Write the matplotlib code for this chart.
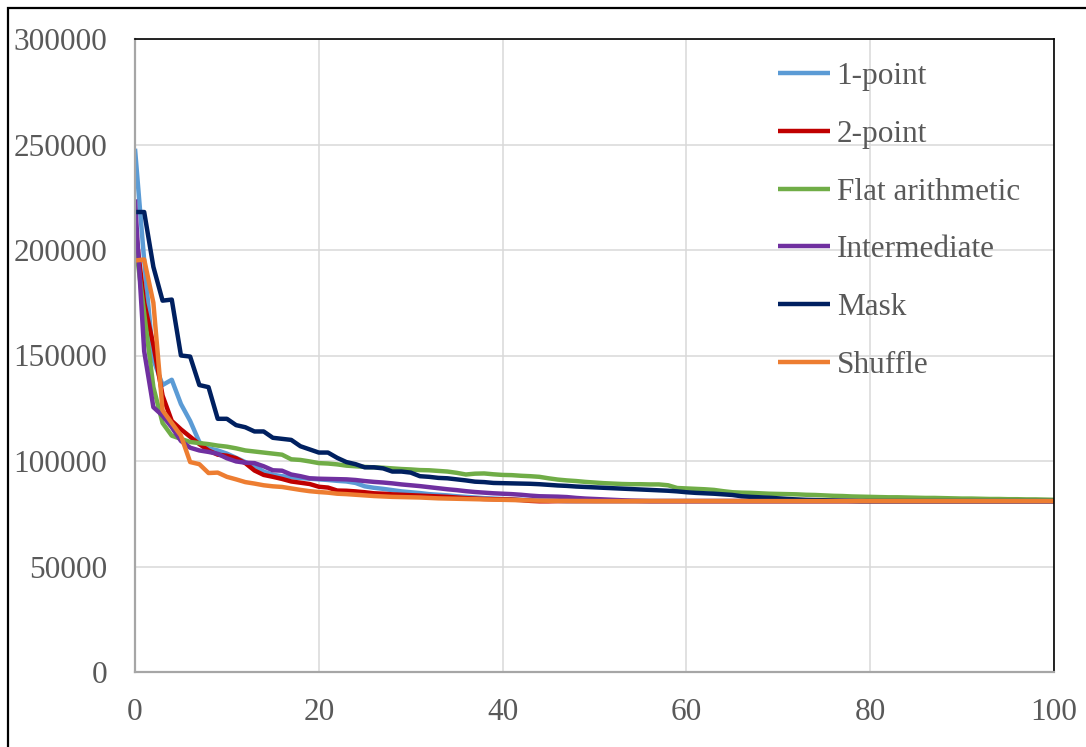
import matplotlib
matplotlib.use("Agg")
import matplotlib.pyplot as plt
from matplotlib.patches import Rectangle

generations = list(range(101))

one_point = [
    248000, 195000, 148000, 136000, 138500, 127000, 119000, 109000, 106000, 105000,
    103500, 101500, 99500, 97500, 95000, 93500, 92800, 92300, 91900, 91600,
    91300, 91000, 90600, 90300, 89600, 88000, 87300, 86800, 86200, 85600,
    85200, 84800, 84300, 84000, 83700, 83300, 83000, 82700, 82400, 82200,
    82000, 81800, 81600, 81400, 81300, 81200, 81100, 81000, 81000, 81000,
    81000, 81000, 81000, 81000, 81000, 81000, 81000, 81000, 81000, 81000,
    81000, 81000, 81000, 81000, 81000, 81000, 81000, 81000, 81000, 81000,
    81000, 81000, 81000, 81000, 81000, 81000, 81000, 81000, 81000, 81000,
    81000, 81000, 81000, 81000, 81000, 81000, 81000, 81000, 81000, 81000,
    81000, 81000, 81000, 81000, 81000, 81000, 81000, 81000, 81000, 81000,
    81000,
]

two_point = [
    212000, 175000, 155000, 131000, 119000, 115000, 111500, 108000, 105000, 103000,
    102500, 101300, 99000, 95500, 93400, 92500, 91500, 90300, 89700, 89100,
    87800, 87400, 86000, 85900, 85600, 85200, 84700, 84500, 84200, 84000,
    83800, 83600, 83400, 83200, 83000, 82700, 82400, 82200, 82000, 81900,
    81800, 81700, 81500, 81100, 80900, 80900, 81000, 81000, 81000, 81000,
    81000, 81000, 81000, 81000, 81000, 81000, 81000, 81000, 81000, 81000,
    81000, 81000, 81000, 81000, 81000, 81000, 81000, 81000, 81000, 81000,
    81000, 81000, 81000, 81000, 81000, 81000, 81000, 81000, 81000, 81000,
    81000, 81000, 81000, 81000, 81000, 81000, 81000, 81000, 81000, 81000,
    81000, 81000, 81000, 81000, 81000, 81000, 81000, 81000, 81000, 81000,
    81000,
]

flat_arithmetic = [
    205000, 170000, 135000, 118000, 112000, 110500, 109000, 108500, 108000, 107300,
    106800, 106000, 105000, 104500, 104000, 103500, 103000, 100800, 100500, 99800,
    99000, 98800, 98400, 97800, 97500, 97200, 97000, 96800, 96500, 96200,
    96000, 95700, 95600, 95300, 95000, 94400, 93600, 94000, 94100, 93700,
    93400, 93300, 93000, 92800, 92500, 91800, 91200, 90800, 90500, 90100,
    89800, 89500, 89300, 89100, 89000, 89000, 88900, 88900, 88500, 87200,
    87000, 86800, 86600, 86300, 85700, 85200, 85000, 84900, 84700, 84500,
    84400, 84300, 84200, 84000, 83900, 83700, 83500, 83400, 83200, 83100,
    83000, 82900, 82800, 82800, 82700, 82600, 82500, 82500, 82400, 82300,
    82200, 82200, 82100, 82000, 82000, 81900, 81900, 81800, 81800, 81700,
    81600,
]

intermediate = [
    224000, 152000, 125500, 121500, 116000, 109500, 106300, 105000, 104300, 103400,
    101300, 99800, 99200, 99000, 97500, 95600, 95400, 93600, 92800, 91800,
    91600, 91500, 91400, 91300, 91000, 90500, 90100, 89800, 89400, 88900,
    88500, 88100, 87600, 87100, 86600, 86200, 85700, 85300, 85000, 84700,
    84500, 84300, 84000, 83600, 83300, 83200, 83100, 82900, 82500, 82200,
    82000, 81800, 81600, 81400, 81200, 81100, 81000, 81000, 81000, 81000,
    81000, 81000, 81000, 81000, 81000, 81000, 81000, 81000, 81000, 81000,
    81000, 81000, 81000, 81000, 81000, 81000, 81000, 81000, 81000, 81000,
    81000, 81000, 81000, 81000, 81000, 81000, 81000, 81000, 81000, 81000,
    81000, 81000, 81000, 81000, 81000, 81000, 81000, 81000, 81000, 81000,
    81000,
]

mask = [
    218000, 218000, 192000, 176000, 176500, 150000, 149500, 136000, 135000, 120000,
    120000, 117000, 116000, 114000, 114000, 111000, 110500, 110000, 107000, 105500,
    104000, 104000, 101500, 99500, 98500, 97000, 97000, 96500, 95000, 95000,
    94500, 92800, 92500, 92000, 91800, 91300, 90800, 90200, 90000, 89600,
    89500, 89400, 89300, 89200, 89000, 88700, 88400, 88200, 87900, 87700,
    87500, 87300, 87100, 86900, 86700, 86500, 86300, 86100, 85900, 85600,
    85200, 84900, 84700, 84500, 84200, 83900, 83300, 83000, 82800, 82600,
    82300, 82000, 81800, 81600, 81500, 81400, 81300, 81200, 81100, 81000,
    81000, 81000, 81000, 81000, 81000, 81000, 81000, 81000, 81000, 81000,
    81000, 81000, 81000, 81000, 81000, 81000, 81000, 81000, 81000, 81000,
    81000,
]

shuffle = [
    195000, 195500, 175000, 124000, 118000, 112000, 99500, 98500, 94300, 94500,
    92500, 91300, 90000, 89300, 88500, 88000, 87700, 87000, 86300, 85700,
    85300, 85000, 84500, 84300, 84000, 83700, 83400, 83200, 83000, 82900,
    82800, 82700, 82500, 82300, 82200, 82100, 82000, 81900, 81800, 81700,
    81600, 81500, 81400, 81300, 81200, 81150, 81100, 81100, 81050, 81050,
    81000, 81000, 81000, 81000, 81000, 81000, 81000, 81000, 81000, 81000,
    81000, 81000, 81000, 81000, 81000, 81000, 81000, 81000, 81000, 81000,
    81000, 81000, 81000, 81000, 81000, 81000, 81000, 81000, 81000, 81000,
    81000, 81000, 81000, 81000, 81000, 81000, 81000, 81000, 81000, 81000,
    81000, 81000, 81000, 81000, 81000, 81000, 81000, 81000, 81000, 81000,
    81000,
]

series_names = ["1-point", "2-point", "Flat arithmetic", "Intermediate", "Mask", "Shuffle"]
series_values = [one_point, two_point, flat_arithmetic, intermediate, mask, shuffle]
series_colors = ["#5B9BD5", "#C00000", "#70AD47", "#7030A0", "#002060", "#ED7D31"]

x_ticks = [0, 20, 40, 60, 80, 100]
y_ticks = [0, 50000, 100000, 150000, 200000, 250000, 300000]

plt.rcParams["font.family"] = ["Liberation Serif", "DejaVu Serif"]
text_color = "#595959"
font_size = 22.5

W, H = 1086, 747
fig = plt.figure(figsize=(W / 100, H / 100), dpi=100)
ax = fig.add_axes([135 / W, 1 - 672 / H, (1054 - 135) / W, (672 - 39) / H])

for name, vals, col in zip(series_names, series_values, series_colors):
    ax.plot(generations, vals, color=col, lw=3.2, label=name,
            solid_joinstyle="round", solid_capstyle="butt")

ax.set_xlim(0, 100)
ax.set_ylim(0, 300000)
ax.set_xticks(x_ticks)
ax.set_yticks(y_ticks)
ax.set_xticklabels([str(t) for t in x_ticks])
ax.set_yticklabels([str(t) for t in y_ticks])
ax.grid(True, color="#D9D9D9", lw=1.1)
ax.set_axisbelow(True)
ax.tick_params(axis="both", length=0, labelsize=font_size, colors=text_color)
ax.tick_params(axis="x", pad=19)
ax.tick_params(axis="y", pad=20)

for side in ("top", "right"):
    ax.spines[side].set_color("black")
    ax.spines[side].set_linewidth(1.2)
for side in ("left", "bottom"):
    ax.spines[side].set_color("#A6A6A6")
    ax.spines[side].set_linewidth(1.6)

leg = ax.legend(loc="upper left", bbox_to_anchor=(778 / W, 1 - 62 / H),
                bbox_transform=fig.transFigure, frameon=False,
                fontsize=font_size, handlelength=1.66, handletextpad=0.22,
                labelspacing=0.92, borderpad=0, borderaxespad=0)
for t in leg.get_texts():
    t.set_color(text_color)

fig.patches.append(Rectangle((8 / W, -0.1), 1.2, 1 - 8 / H + 0.1,
                             transform=fig.transFigure, fill=False,
                             edgecolor="black", lw=1.6))

fig.savefig("out.png", dpi=100)
